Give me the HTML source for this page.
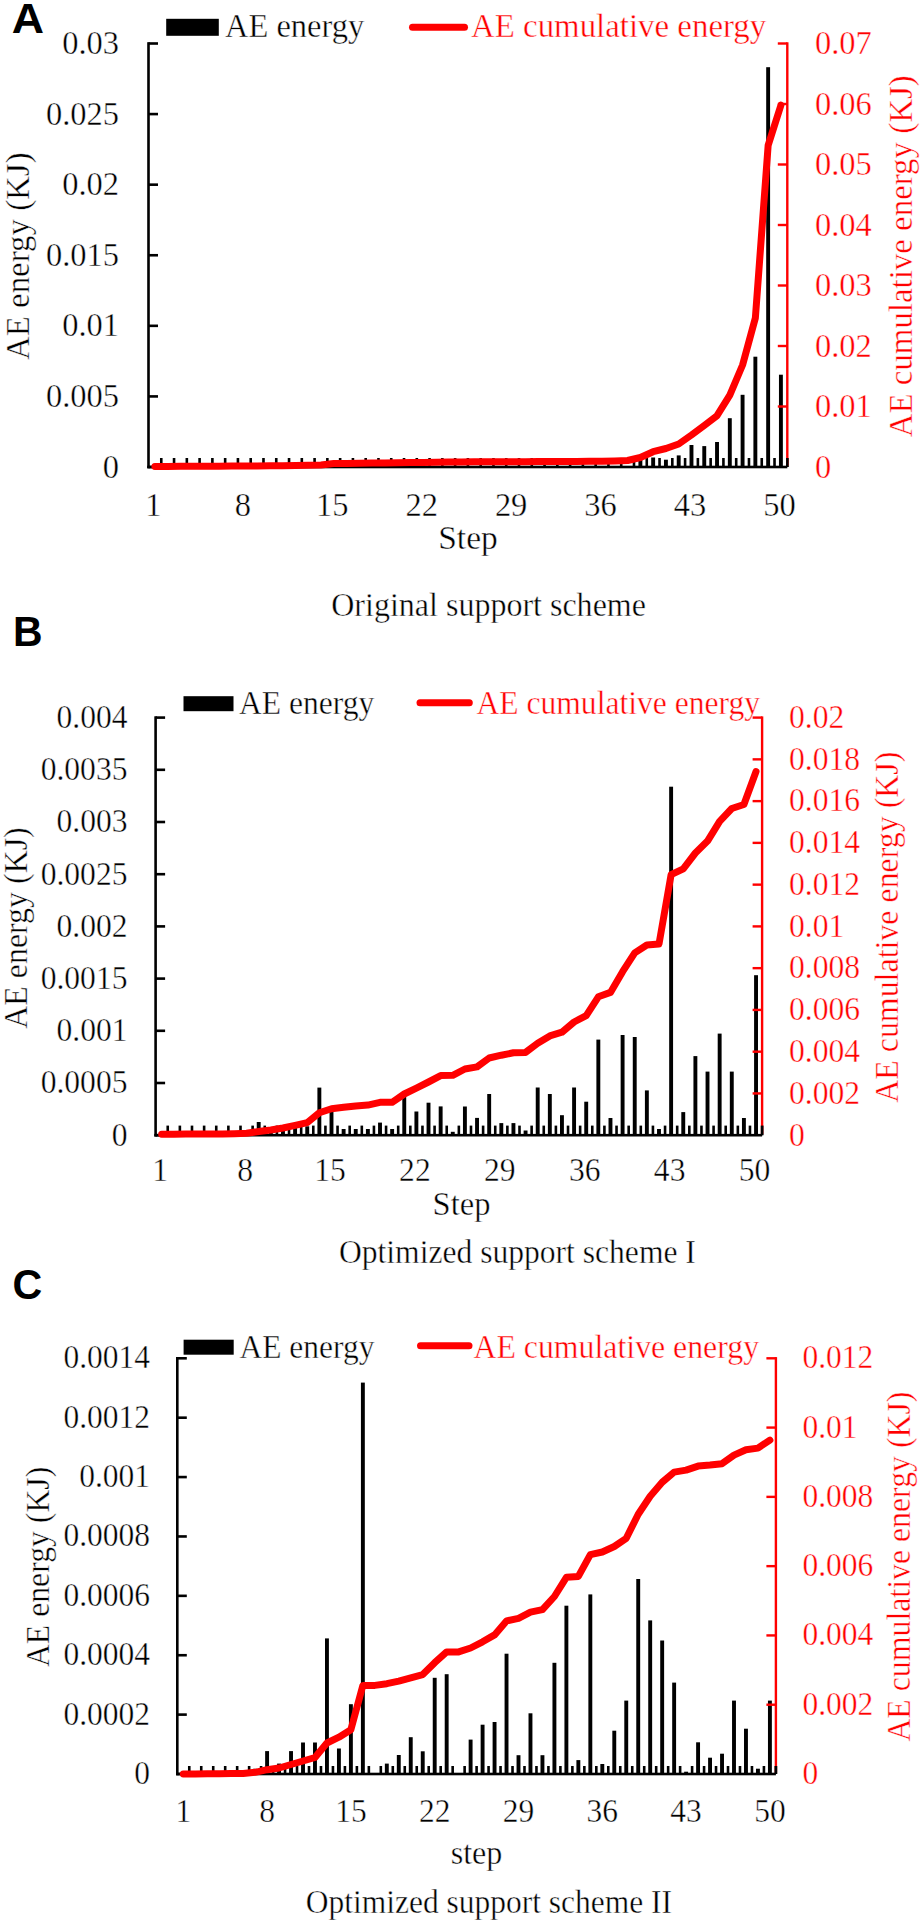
<!DOCTYPE html>
<html><head><meta charset="utf-8"><title>AE energy charts</title>
<style>html,body{margin:0;padding:0;background:#fff;width:922px;height:1921px;overflow:hidden}svg{display:block}text.s{stroke:#fff;stroke-width:0.4px;paint-order:fill}</style>
</head><body>
<svg width="922" height="1921" viewBox="0 0 922 1921" font-family='"Liberation Serif", serif'>
<rect width="922" height="1921" fill="#fff"/>
<rect x="638.43" y="460" width="3.9" height="7" fill="#000"/>
<rect x="651.2" y="457.5" width="3.9" height="9.5" fill="#000"/>
<rect x="663.98" y="459.7" width="3.9" height="7.3" fill="#000"/>
<rect x="676.75" y="455.4" width="3.9" height="11.6" fill="#000"/>
<rect x="689.53" y="445" width="3.9" height="22" fill="#000"/>
<rect x="702.31" y="446.1" width="3.9" height="20.9" fill="#000"/>
<rect x="715.08" y="442" width="3.9" height="25" fill="#000"/>
<rect x="727.86" y="418.2" width="3.9" height="48.8" fill="#000"/>
<rect x="740.63" y="394.8" width="3.9" height="72.2" fill="#000"/>
<rect x="753.41" y="356.7" width="3.9" height="110.3" fill="#000"/>
<rect x="766.19" y="67.2" width="3.9" height="399.8" fill="#000"/>
<rect x="778.96" y="374.7" width="3.9" height="92.3" fill="#000"/>
<rect x="159.98" y="458" width="2.6" height="9" fill="#000"/>
<rect x="172.75" y="458" width="2.6" height="9" fill="#000"/>
<rect x="185.53" y="458" width="2.6" height="9" fill="#000"/>
<rect x="198.3" y="458" width="2.6" height="9" fill="#000"/>
<rect x="211.08" y="458" width="2.6" height="9" fill="#000"/>
<rect x="223.86" y="458" width="2.6" height="9" fill="#000"/>
<rect x="236.63" y="458" width="2.6" height="9" fill="#000"/>
<rect x="249.41" y="458" width="2.6" height="9" fill="#000"/>
<rect x="262.18" y="458" width="2.6" height="9" fill="#000"/>
<rect x="274.96" y="458" width="2.6" height="9" fill="#000"/>
<rect x="287.74" y="458" width="2.6" height="9" fill="#000"/>
<rect x="300.51" y="458" width="2.6" height="9" fill="#000"/>
<rect x="313.29" y="458" width="2.6" height="9" fill="#000"/>
<rect x="326.06" y="458" width="2.6" height="9" fill="#000"/>
<rect x="338.84" y="458" width="2.6" height="9" fill="#000"/>
<rect x="351.62" y="458" width="2.6" height="9" fill="#000"/>
<rect x="364.39" y="458" width="2.6" height="9" fill="#000"/>
<rect x="377.17" y="458" width="2.6" height="9" fill="#000"/>
<rect x="389.94" y="458" width="2.6" height="9" fill="#000"/>
<rect x="402.72" y="458" width="2.6" height="9" fill="#000"/>
<rect x="415.5" y="458" width="2.6" height="9" fill="#000"/>
<rect x="428.27" y="458" width="2.6" height="9" fill="#000"/>
<rect x="441.05" y="458" width="2.6" height="9" fill="#000"/>
<rect x="453.82" y="458" width="2.6" height="9" fill="#000"/>
<rect x="466.6" y="458" width="2.6" height="9" fill="#000"/>
<rect x="479.38" y="458" width="2.6" height="9" fill="#000"/>
<rect x="492.15" y="458" width="2.6" height="9" fill="#000"/>
<rect x="504.93" y="458" width="2.6" height="9" fill="#000"/>
<rect x="517.7" y="458" width="2.6" height="9" fill="#000"/>
<rect x="530.48" y="458" width="2.6" height="9" fill="#000"/>
<rect x="543.26" y="458" width="2.6" height="9" fill="#000"/>
<rect x="556.03" y="458" width="2.6" height="9" fill="#000"/>
<rect x="568.81" y="458" width="2.6" height="9" fill="#000"/>
<rect x="581.58" y="458" width="2.6" height="9" fill="#000"/>
<rect x="594.36" y="458" width="2.6" height="9" fill="#000"/>
<rect x="607.14" y="458" width="2.6" height="9" fill="#000"/>
<rect x="619.91" y="458" width="2.6" height="9" fill="#000"/>
<rect x="632.69" y="458" width="2.6" height="9" fill="#000"/>
<rect x="645.46" y="458" width="2.6" height="9" fill="#000"/>
<rect x="658.24" y="458" width="2.6" height="9" fill="#000"/>
<rect x="671.02" y="458" width="2.6" height="9" fill="#000"/>
<rect x="683.79" y="458" width="2.6" height="9" fill="#000"/>
<rect x="696.57" y="458" width="2.6" height="9" fill="#000"/>
<rect x="709.34" y="458" width="2.6" height="9" fill="#000"/>
<rect x="722.12" y="458" width="2.6" height="9" fill="#000"/>
<rect x="734.9" y="458" width="2.6" height="9" fill="#000"/>
<rect x="747.67" y="458" width="2.6" height="9" fill="#000"/>
<rect x="760.45" y="458" width="2.6" height="9" fill="#000"/>
<rect x="773.22" y="458" width="2.6" height="9" fill="#000"/>
<rect x="786" y="458" width="2.6" height="9" fill="#000"/>
<rect x="147.2" y="42.2" width="2.6" height="426.1" fill="#000"/>
<rect x="148.5" y="465.7" width="9.5" height="2.6" fill="#000"/>
<text class="s" transform="translate(119,477.6) scale(1.0000,1.0450)" font-size="32.5" text-anchor="end">0</text>
<rect x="148.5" y="395.12" width="9.5" height="2.6" fill="#000"/>
<text class="s" transform="translate(119,407.02) scale(1.0000,1.0450)" font-size="32.5" text-anchor="end">0.005</text>
<rect x="148.5" y="324.53" width="9.5" height="2.6" fill="#000"/>
<text class="s" transform="translate(119,336.43) scale(1.0000,1.0450)" font-size="32.5" text-anchor="end">0.01</text>
<rect x="148.5" y="253.95" width="9.5" height="2.6" fill="#000"/>
<text class="s" transform="translate(119,265.85) scale(1.0000,1.0450)" font-size="32.5" text-anchor="end">0.015</text>
<rect x="148.5" y="183.37" width="9.5" height="2.6" fill="#000"/>
<text class="s" transform="translate(119,195.27) scale(1.0000,1.0450)" font-size="32.5" text-anchor="end">0.02</text>
<rect x="148.5" y="112.78" width="9.5" height="2.6" fill="#000"/>
<text class="s" transform="translate(119,124.68) scale(1.0000,1.0450)" font-size="32.5" text-anchor="end">0.025</text>
<rect x="148.5" y="42.2" width="9.5" height="2.6" fill="#000"/>
<text class="s" transform="translate(119,54.1) scale(1.0000,1.0450)" font-size="32.5" text-anchor="end">0.03</text>
<rect x="786.1" y="42.3" width="2.4" height="423.5" fill="#ff0000"/>
<text class="s" transform="translate(815,477.6) scale(1.0000,1.0450)" font-size="32.5" fill="#ff0000">0</text>
<rect x="777.8" y="405.3" width="9.5" height="2.4" fill="#ff0000"/>
<text class="s" transform="translate(815,417.1) scale(1.0000,1.0450)" font-size="32.5" fill="#ff0000">0.01</text>
<rect x="777.8" y="344.8" width="9.5" height="2.4" fill="#ff0000"/>
<text class="s" transform="translate(815,356.6) scale(1.0000,1.0450)" font-size="32.5" fill="#ff0000">0.02</text>
<rect x="777.8" y="284.3" width="9.5" height="2.4" fill="#ff0000"/>
<text class="s" transform="translate(815,296.1) scale(1.0000,1.0450)" font-size="32.5" fill="#ff0000">0.03</text>
<rect x="777.8" y="223.8" width="9.5" height="2.4" fill="#ff0000"/>
<text class="s" transform="translate(815,235.6) scale(1.0000,1.0450)" font-size="32.5" fill="#ff0000">0.04</text>
<rect x="777.8" y="163.3" width="9.5" height="2.4" fill="#ff0000"/>
<text class="s" transform="translate(815,175.1) scale(1.0000,1.0450)" font-size="32.5" fill="#ff0000">0.05</text>
<rect x="777.8" y="102.8" width="9.5" height="2.4" fill="#ff0000"/>
<text class="s" transform="translate(815,114.6) scale(1.0000,1.0450)" font-size="32.5" fill="#ff0000">0.06</text>
<rect x="777.8" y="42.3" width="9.5" height="2.4" fill="#ff0000"/>
<text class="s" transform="translate(815,54.1) scale(1.0000,1.0450)" font-size="32.5" fill="#ff0000">0.07</text>
<rect x="786.1" y="458" width="2.4" height="9" fill="#000"/>
<rect x="147.2" y="465.7" width="640.1" height="2.6" fill="#000"/>
<polyline points="154.89,466.5 167.66,466.43 180.44,466.36 193.22,466.29 205.99,466.22 218.77,466.15 231.54,466.08 244.32,466.01 257.1,465.94 269.87,465.87 282.65,465.8 295.42,465.53 308.2,465.27 320.98,465 333.75,463.6 346.53,463.44 359.3,463.28 372.08,463.12 384.86,462.96 397.63,462.8 410.41,462.62 423.18,462.44 435.96,462.26 448.74,462.08 461.51,461.9 474.29,461.85 487.06,461.79 499.84,461.74 512.62,461.68 525.39,461.63 538.17,461.57 550.94,461.52 563.72,461.46 576.5,461.41 589.27,461.35 602.05,461.3 614.82,460.9 627.6,460.5 640.38,457.5 653.15,451.7 665.93,448.5 678.7,444 691.48,435 704.26,425.5 717.03,415.7 729.81,395.2 742.58,365 755.36,318 768.14,145.4 780.91,105.2" fill="none" stroke="#ff0000" stroke-width="7" stroke-linejoin="round" stroke-linecap="round"/>
<text class="s" transform="translate(153.39,515.8) scale(1.0000,1.0450)" font-size="32.5" text-anchor="middle">1</text>
<text class="s" transform="translate(242.82,515.8) scale(1.0000,1.0450)" font-size="32.5" text-anchor="middle">8</text>
<text class="s" transform="translate(332.25,515.8) scale(1.0000,1.0450)" font-size="32.5" text-anchor="middle">15</text>
<text class="s" transform="translate(421.68,515.8) scale(1.0000,1.0450)" font-size="32.5" text-anchor="middle">22</text>
<text class="s" transform="translate(511.12,515.8) scale(1.0000,1.0450)" font-size="32.5" text-anchor="middle">29</text>
<text class="s" transform="translate(600.55,515.8) scale(1.0000,1.0450)" font-size="32.5" text-anchor="middle">36</text>
<text class="s" transform="translate(689.98,515.8) scale(1.0000,1.0450)" font-size="32.5" text-anchor="middle">43</text>
<text class="s" transform="translate(779.41,515.8) scale(1.0000,1.0450)" font-size="32.5" text-anchor="middle">50</text>
<text class="s" transform="translate(468,549) scale(1.0300,1.0450)" font-size="32.5" text-anchor="middle">Step</text>
<text class="s" transform="translate(488.6,616.4) scale(0.9850,1.0450)" font-size="32.5" text-anchor="middle">Original support scheme</text>
<text class="s" transform="translate(28.9,256.2) rotate(-90) scale(1.0120,1.0450)" font-size="32.5" text-anchor="middle">AE energy (KJ)</text>
<text class="s" transform="translate(911.5,256.3) rotate(-90) scale(1.0120,1.0450)" font-size="32.5" text-anchor="middle" fill="#ff0000">AE cumulative energy (KJ)</text>
<rect x="166.2" y="18.8" width="52.6" height="17" fill="#000"/>
<text class="s" transform="translate(225,37.1) scale(1.0000,1.0450)" font-size="32.5">AE energy</text>
<line x1="412.5" y1="27.2" x2="464.5" y2="27.2" stroke="#ff0000" stroke-width="7" stroke-linecap="round"/>
<text class="s" transform="translate(471,37.1) scale(1.0120,1.0450)" font-size="32.5" fill="#ff0000">AE cumulative energy</text>
<text transform="translate(11.8,32.5) scale(1.0600,1.0000)" font-size="42.2" font-family='"Liberation Sans", sans-serif' font-weight="bold">A</text>
<rect x="256.75" y="1122" width="3.9" height="13.2" fill="#000"/>
<rect x="268.89" y="1131" width="3.9" height="4.2" fill="#000"/>
<rect x="281.02" y="1130" width="3.9" height="5.2" fill="#000"/>
<rect x="293.15" y="1128" width="3.9" height="7.2" fill="#000"/>
<rect x="305.28" y="1126.3" width="3.9" height="8.9" fill="#000"/>
<rect x="317.41" y="1087.6" width="3.9" height="47.6" fill="#000"/>
<rect x="329.54" y="1110.6" width="3.9" height="24.6" fill="#000"/>
<rect x="341.67" y="1129" width="3.9" height="6.2" fill="#000"/>
<rect x="353.8" y="1129" width="3.9" height="6.2" fill="#000"/>
<rect x="365.93" y="1129" width="3.9" height="6.2" fill="#000"/>
<rect x="378.06" y="1122.6" width="3.9" height="12.6" fill="#000"/>
<rect x="390.19" y="1129" width="3.9" height="6.2" fill="#000"/>
<rect x="402.31" y="1091.3" width="3.9" height="43.9" fill="#000"/>
<rect x="414.44" y="1111.5" width="3.9" height="23.7" fill="#000"/>
<rect x="426.57" y="1102.7" width="3.9" height="32.5" fill="#000"/>
<rect x="438.7" y="1106.4" width="3.9" height="28.8" fill="#000"/>
<rect x="450.83" y="1131.8" width="3.9" height="3.4" fill="#000"/>
<rect x="462.96" y="1106.5" width="3.9" height="28.7" fill="#000"/>
<rect x="475.09" y="1117.9" width="3.9" height="17.3" fill="#000"/>
<rect x="487.23" y="1094" width="3.9" height="41.2" fill="#000"/>
<rect x="499.36" y="1123.1" width="3.9" height="12.1" fill="#000"/>
<rect x="511.49" y="1123.1" width="3.9" height="12.1" fill="#000"/>
<rect x="523.62" y="1130.5" width="3.9" height="4.7" fill="#000"/>
<rect x="535.75" y="1087.5" width="3.9" height="47.7" fill="#000"/>
<rect x="547.88" y="1094" width="3.9" height="41.2" fill="#000"/>
<rect x="560" y="1115.2" width="3.9" height="20" fill="#000"/>
<rect x="572.13" y="1087.5" width="3.9" height="47.7" fill="#000"/>
<rect x="584.26" y="1101.7" width="3.9" height="33.5" fill="#000"/>
<rect x="596.39" y="1039.6" width="3.9" height="95.6" fill="#000"/>
<rect x="608.52" y="1118" width="3.9" height="17.2" fill="#000"/>
<rect x="620.65" y="1035" width="3.9" height="100.2" fill="#000"/>
<rect x="632.78" y="1037" width="3.9" height="98.2" fill="#000"/>
<rect x="644.91" y="1090.4" width="3.9" height="44.8" fill="#000"/>
<rect x="657.04" y="1129" width="3.9" height="6.2" fill="#000"/>
<rect x="669.17" y="786.7" width="3.9" height="348.5" fill="#000"/>
<rect x="681.31" y="1112.1" width="3.9" height="23.1" fill="#000"/>
<rect x="693.44" y="1056.1" width="3.9" height="79.1" fill="#000"/>
<rect x="705.57" y="1071.6" width="3.9" height="63.6" fill="#000"/>
<rect x="717.7" y="1033.6" width="3.9" height="101.6" fill="#000"/>
<rect x="729.83" y="1071.6" width="3.9" height="63.6" fill="#000"/>
<rect x="741.96" y="1118" width="3.9" height="17.2" fill="#000"/>
<rect x="754.09" y="975.2" width="3.9" height="160" fill="#000"/>
<rect x="166.43" y="1125.6" width="2.6" height="9.6" fill="#000"/>
<rect x="178.56" y="1125.6" width="2.6" height="9.6" fill="#000"/>
<rect x="190.69" y="1125.6" width="2.6" height="9.6" fill="#000"/>
<rect x="202.82" y="1125.6" width="2.6" height="9.6" fill="#000"/>
<rect x="214.95" y="1125.6" width="2.6" height="9.6" fill="#000"/>
<rect x="227.08" y="1125.6" width="2.6" height="9.6" fill="#000"/>
<rect x="239.21" y="1125.6" width="2.6" height="9.6" fill="#000"/>
<rect x="251.34" y="1125.6" width="2.6" height="9.6" fill="#000"/>
<rect x="263.47" y="1125.6" width="2.6" height="9.6" fill="#000"/>
<rect x="275.6" y="1125.6" width="2.6" height="9.6" fill="#000"/>
<rect x="287.73" y="1125.6" width="2.6" height="9.6" fill="#000"/>
<rect x="299.86" y="1125.6" width="2.6" height="9.6" fill="#000"/>
<rect x="311.99" y="1125.6" width="2.6" height="9.6" fill="#000"/>
<rect x="324.12" y="1125.6" width="2.6" height="9.6" fill="#000"/>
<rect x="336.25" y="1125.6" width="2.6" height="9.6" fill="#000"/>
<rect x="348.38" y="1125.6" width="2.6" height="9.6" fill="#000"/>
<rect x="360.51" y="1125.6" width="2.6" height="9.6" fill="#000"/>
<rect x="372.64" y="1125.6" width="2.6" height="9.6" fill="#000"/>
<rect x="384.77" y="1125.6" width="2.6" height="9.6" fill="#000"/>
<rect x="396.9" y="1125.6" width="2.6" height="9.6" fill="#000"/>
<rect x="409.03" y="1125.6" width="2.6" height="9.6" fill="#000"/>
<rect x="421.16" y="1125.6" width="2.6" height="9.6" fill="#000"/>
<rect x="433.29" y="1125.6" width="2.6" height="9.6" fill="#000"/>
<rect x="445.42" y="1125.6" width="2.6" height="9.6" fill="#000"/>
<rect x="457.55" y="1125.6" width="2.6" height="9.6" fill="#000"/>
<rect x="469.68" y="1125.6" width="2.6" height="9.6" fill="#000"/>
<rect x="481.81" y="1125.6" width="2.6" height="9.6" fill="#000"/>
<rect x="493.94" y="1125.6" width="2.6" height="9.6" fill="#000"/>
<rect x="506.07" y="1125.6" width="2.6" height="9.6" fill="#000"/>
<rect x="518.2" y="1125.6" width="2.6" height="9.6" fill="#000"/>
<rect x="530.33" y="1125.6" width="2.6" height="9.6" fill="#000"/>
<rect x="542.46" y="1125.6" width="2.6" height="9.6" fill="#000"/>
<rect x="554.59" y="1125.6" width="2.6" height="9.6" fill="#000"/>
<rect x="566.72" y="1125.6" width="2.6" height="9.6" fill="#000"/>
<rect x="578.85" y="1125.6" width="2.6" height="9.6" fill="#000"/>
<rect x="590.98" y="1125.6" width="2.6" height="9.6" fill="#000"/>
<rect x="603.11" y="1125.6" width="2.6" height="9.6" fill="#000"/>
<rect x="615.24" y="1125.6" width="2.6" height="9.6" fill="#000"/>
<rect x="627.37" y="1125.6" width="2.6" height="9.6" fill="#000"/>
<rect x="639.5" y="1125.6" width="2.6" height="9.6" fill="#000"/>
<rect x="651.63" y="1125.6" width="2.6" height="9.6" fill="#000"/>
<rect x="663.76" y="1125.6" width="2.6" height="9.6" fill="#000"/>
<rect x="675.89" y="1125.6" width="2.6" height="9.6" fill="#000"/>
<rect x="688.02" y="1125.6" width="2.6" height="9.6" fill="#000"/>
<rect x="700.15" y="1125.6" width="2.6" height="9.6" fill="#000"/>
<rect x="712.28" y="1125.6" width="2.6" height="9.6" fill="#000"/>
<rect x="724.41" y="1125.6" width="2.6" height="9.6" fill="#000"/>
<rect x="736.54" y="1125.6" width="2.6" height="9.6" fill="#000"/>
<rect x="748.67" y="1125.6" width="2.6" height="9.6" fill="#000"/>
<rect x="760.8" y="1125.6" width="2.6" height="9.6" fill="#000"/>
<rect x="154.3" y="716.3" width="2.6" height="420.2" fill="#000"/>
<rect x="155.6" y="1133.9" width="9.5" height="2.6" fill="#000"/>
<text class="s" transform="translate(127.5,1145.5) scale(1.0000,1.0450)" font-size="31.6" text-anchor="end">0</text>
<rect x="155.6" y="1081.7" width="9.5" height="2.6" fill="#000"/>
<text class="s" transform="translate(127.5,1093.3) scale(1.0000,1.0450)" font-size="31.6" text-anchor="end">0.0005</text>
<rect x="155.6" y="1029.5" width="9.5" height="2.6" fill="#000"/>
<text class="s" transform="translate(127.5,1041.1) scale(1.0000,1.0450)" font-size="31.6" text-anchor="end">0.001</text>
<rect x="155.6" y="977.3" width="9.5" height="2.6" fill="#000"/>
<text class="s" transform="translate(127.5,988.9) scale(1.0000,1.0450)" font-size="31.6" text-anchor="end">0.0015</text>
<rect x="155.6" y="925.1" width="9.5" height="2.6" fill="#000"/>
<text class="s" transform="translate(127.5,936.7) scale(1.0000,1.0450)" font-size="31.6" text-anchor="end">0.002</text>
<rect x="155.6" y="872.9" width="9.5" height="2.6" fill="#000"/>
<text class="s" transform="translate(127.5,884.5) scale(1.0000,1.0450)" font-size="31.6" text-anchor="end">0.0025</text>
<rect x="155.6" y="820.7" width="9.5" height="2.6" fill="#000"/>
<text class="s" transform="translate(127.5,832.3) scale(1.0000,1.0450)" font-size="31.6" text-anchor="end">0.003</text>
<rect x="155.6" y="768.5" width="9.5" height="2.6" fill="#000"/>
<text class="s" transform="translate(127.5,780.1) scale(1.0000,1.0450)" font-size="31.6" text-anchor="end">0.0035</text>
<rect x="155.6" y="716.3" width="9.5" height="2.6" fill="#000"/>
<text class="s" transform="translate(127.5,727.9) scale(1.0000,1.0450)" font-size="31.6" text-anchor="end">0.004</text>
<rect x="760.9" y="716.4" width="2.4" height="417.6" fill="#ff0000"/>
<text class="s" transform="translate(789,1145.5) scale(1.0000,1.0450)" font-size="31.6" fill="#ff0000">0</text>
<rect x="752.6" y="1092.24" width="9.5" height="2.4" fill="#ff0000"/>
<text class="s" transform="translate(789,1103.74) scale(1.0000,1.0450)" font-size="31.6" fill="#ff0000">0.002</text>
<rect x="752.6" y="1050.48" width="9.5" height="2.4" fill="#ff0000"/>
<text class="s" transform="translate(789,1061.98) scale(1.0000,1.0450)" font-size="31.6" fill="#ff0000">0.004</text>
<rect x="752.6" y="1008.72" width="9.5" height="2.4" fill="#ff0000"/>
<text class="s" transform="translate(789,1020.22) scale(1.0000,1.0450)" font-size="31.6" fill="#ff0000">0.006</text>
<rect x="752.6" y="966.96" width="9.5" height="2.4" fill="#ff0000"/>
<text class="s" transform="translate(789,978.46) scale(1.0000,1.0450)" font-size="31.6" fill="#ff0000">0.008</text>
<rect x="752.6" y="925.2" width="9.5" height="2.4" fill="#ff0000"/>
<text class="s" transform="translate(789,936.7) scale(1.0000,1.0450)" font-size="31.6" fill="#ff0000">0.01</text>
<rect x="752.6" y="883.44" width="9.5" height="2.4" fill="#ff0000"/>
<text class="s" transform="translate(789,894.94) scale(1.0000,1.0450)" font-size="31.6" fill="#ff0000">0.012</text>
<rect x="752.6" y="841.68" width="9.5" height="2.4" fill="#ff0000"/>
<text class="s" transform="translate(789,853.18) scale(1.0000,1.0450)" font-size="31.6" fill="#ff0000">0.014</text>
<rect x="752.6" y="799.92" width="9.5" height="2.4" fill="#ff0000"/>
<text class="s" transform="translate(789,811.42) scale(1.0000,1.0450)" font-size="31.6" fill="#ff0000">0.016</text>
<rect x="752.6" y="758.16" width="9.5" height="2.4" fill="#ff0000"/>
<text class="s" transform="translate(789,769.66) scale(1.0000,1.0450)" font-size="31.6" fill="#ff0000">0.018</text>
<rect x="752.6" y="716.4" width="9.5" height="2.4" fill="#ff0000"/>
<text class="s" transform="translate(789,727.9) scale(1.0000,1.0450)" font-size="31.6" fill="#ff0000">0.02</text>
<rect x="760.9" y="1125.6" width="2.4" height="9.6" fill="#000"/>
<rect x="154.3" y="1133.9" width="607.8" height="2.6" fill="#000"/>
<polyline points="161.66,1134.2 173.79,1134.16 185.93,1134.12 198.06,1134.08 210.19,1134.04 222.31,1134 234.44,1133.65 246.57,1133.3 258.7,1131.5 270.84,1130 282.97,1128 295.1,1125.4 307.23,1122.6 319.36,1112.8 331.49,1108.8 343.62,1107.3 355.75,1106 367.88,1105.1 380,1102.3 392.13,1102.3 404.26,1094 416.39,1088.1 428.52,1082 440.65,1075.6 452.78,1075.3 464.91,1069 477.04,1066.9 489.18,1058 501.31,1055.2 513.44,1052.8 525.57,1052.4 537.7,1043.3 549.83,1035.9 561.96,1032.2 574.09,1022 586.22,1015.6 598.35,996.8 610.48,992.4 622.61,971.7 634.74,952.9 646.87,945 659,944 671.12,874.7 683.26,868.8 695.39,853 707.52,841.1 719.65,821.3 731.78,808.5 743.91,804.5 756.04,771.5" fill="none" stroke="#ff0000" stroke-width="7" stroke-linejoin="round" stroke-linecap="round"/>
<text class="s" transform="translate(160.16,1181) scale(1.0000,1.0450)" font-size="31.6" text-anchor="middle">1</text>
<text class="s" transform="translate(245.07,1181) scale(1.0000,1.0450)" font-size="31.6" text-anchor="middle">8</text>
<text class="s" transform="translate(329.99,1181) scale(1.0000,1.0450)" font-size="31.6" text-anchor="middle">15</text>
<text class="s" transform="translate(414.89,1181) scale(1.0000,1.0450)" font-size="31.6" text-anchor="middle">22</text>
<text class="s" transform="translate(499.81,1181) scale(1.0000,1.0450)" font-size="31.6" text-anchor="middle">29</text>
<text class="s" transform="translate(584.72,1181) scale(1.0000,1.0450)" font-size="31.6" text-anchor="middle">36</text>
<text class="s" transform="translate(669.62,1181) scale(1.0000,1.0450)" font-size="31.6" text-anchor="middle">43</text>
<text class="s" transform="translate(754.54,1181) scale(1.0000,1.0450)" font-size="31.6" text-anchor="middle">50</text>
<text class="s" transform="translate(461.5,1214.7) scale(1.0300,1.0450)" font-size="31.6" text-anchor="middle">Step</text>
<text class="s" transform="translate(517.4,1263.3) scale(1.0000,1.0450)" font-size="31.6" text-anchor="middle">Optimized support scheme I</text>
<text class="s" transform="translate(27.3,928) rotate(-90) scale(1.0100,1.0450)" font-size="31.6" text-anchor="middle">AE energy (KJ)</text>
<text class="s" transform="translate(898,927.2) rotate(-90) scale(1.0100,1.0450)" font-size="31.6" text-anchor="middle" fill="#ff0000">AE cumulative energy (KJ)</text>
<rect x="183.5" y="696.2" width="50" height="15" fill="#000"/>
<text class="s" transform="translate(239,713.8) scale(1.0000,1.0450)" font-size="31.6">AE energy</text>
<line x1="420" y1="702.8" x2="469.3" y2="702.8" stroke="#ff0000" stroke-width="7" stroke-linecap="round"/>
<text class="s" transform="translate(476.5,713.8) scale(1.0000,1.0450)" font-size="31.6" fill="#ff0000">AE cumulative energy</text>
<text transform="translate(13,645.9) scale(0.9700,1.0000)" font-size="42.2" font-family='"Liberation Sans", sans-serif' font-weight="bold">B</text>
<rect x="253.17" y="1768.8" width="3.9" height="5.2" fill="#000"/>
<rect x="265.14" y="1751.1" width="3.9" height="22.9" fill="#000"/>
<rect x="277.11" y="1763.6" width="3.9" height="10.4" fill="#000"/>
<rect x="289.08" y="1751.1" width="3.9" height="22.9" fill="#000"/>
<rect x="301.06" y="1742.5" width="3.9" height="31.5" fill="#000"/>
<rect x="313.03" y="1742.5" width="3.9" height="31.5" fill="#000"/>
<rect x="325" y="1638.4" width="3.9" height="135.6" fill="#000"/>
<rect x="336.97" y="1748.5" width="3.9" height="25.5" fill="#000"/>
<rect x="348.94" y="1704.2" width="3.9" height="69.8" fill="#000"/>
<rect x="360.92" y="1382.6" width="3.9" height="391.4" fill="#000"/>
<rect x="384.86" y="1763.6" width="3.9" height="10.4" fill="#000"/>
<rect x="396.83" y="1755" width="3.9" height="19" fill="#000"/>
<rect x="408.8" y="1737.2" width="3.9" height="36.8" fill="#000"/>
<rect x="420.78" y="1751.3" width="3.9" height="22.7" fill="#000"/>
<rect x="432.75" y="1677.8" width="3.9" height="96.2" fill="#000"/>
<rect x="444.72" y="1674.2" width="3.9" height="99.8" fill="#000"/>
<rect x="468.66" y="1739.6" width="3.9" height="34.4" fill="#000"/>
<rect x="480.64" y="1724.7" width="3.9" height="49.3" fill="#000"/>
<rect x="492.61" y="1722" width="3.9" height="52" fill="#000"/>
<rect x="504.58" y="1653.7" width="3.9" height="120.3" fill="#000"/>
<rect x="516.55" y="1755.2" width="3.9" height="18.8" fill="#000"/>
<rect x="528.52" y="1713.3" width="3.9" height="60.7" fill="#000"/>
<rect x="540.5" y="1755.2" width="3.9" height="18.8" fill="#000"/>
<rect x="552.47" y="1662.8" width="3.9" height="111.2" fill="#000"/>
<rect x="564.44" y="1605.7" width="3.9" height="168.3" fill="#000"/>
<rect x="576.41" y="1760.1" width="3.9" height="13.9" fill="#000"/>
<rect x="588.38" y="1594.4" width="3.9" height="179.6" fill="#000"/>
<rect x="600.36" y="1764" width="3.9" height="10" fill="#000"/>
<rect x="612.33" y="1730.7" width="3.9" height="43.3" fill="#000"/>
<rect x="624.3" y="1700.6" width="3.9" height="73.4" fill="#000"/>
<rect x="636.27" y="1579" width="3.9" height="195" fill="#000"/>
<rect x="648.24" y="1620.4" width="3.9" height="153.6" fill="#000"/>
<rect x="660.22" y="1640.5" width="3.9" height="133.5" fill="#000"/>
<rect x="672.19" y="1682.6" width="3.9" height="91.4" fill="#000"/>
<rect x="684.16" y="1771.7" width="3.9" height="2.3" fill="#000"/>
<rect x="696.13" y="1742.3" width="3.9" height="31.7" fill="#000"/>
<rect x="708.1" y="1757.7" width="3.9" height="16.3" fill="#000"/>
<rect x="720.08" y="1753.7" width="3.9" height="20.3" fill="#000"/>
<rect x="732.05" y="1700.6" width="3.9" height="73.4" fill="#000"/>
<rect x="744.02" y="1728.7" width="3.9" height="45.3" fill="#000"/>
<rect x="755.99" y="1768.7" width="3.9" height="5.3" fill="#000"/>
<rect x="767.96" y="1700.6" width="3.9" height="73.4" fill="#000"/>
<rect x="187.97" y="1766" width="2.6" height="8" fill="#000"/>
<rect x="199.94" y="1766" width="2.6" height="8" fill="#000"/>
<rect x="211.92" y="1766" width="2.6" height="8" fill="#000"/>
<rect x="223.89" y="1766" width="2.6" height="8" fill="#000"/>
<rect x="235.86" y="1766" width="2.6" height="8" fill="#000"/>
<rect x="247.83" y="1766" width="2.6" height="8" fill="#000"/>
<rect x="259.8" y="1766" width="2.6" height="8" fill="#000"/>
<rect x="271.78" y="1766" width="2.6" height="8" fill="#000"/>
<rect x="283.75" y="1766" width="2.6" height="8" fill="#000"/>
<rect x="295.72" y="1766" width="2.6" height="8" fill="#000"/>
<rect x="307.69" y="1766" width="2.6" height="8" fill="#000"/>
<rect x="319.66" y="1766" width="2.6" height="8" fill="#000"/>
<rect x="331.64" y="1766" width="2.6" height="8" fill="#000"/>
<rect x="343.61" y="1766" width="2.6" height="8" fill="#000"/>
<rect x="355.58" y="1766" width="2.6" height="8" fill="#000"/>
<rect x="367.55" y="1766" width="2.6" height="8" fill="#000"/>
<rect x="379.52" y="1766" width="2.6" height="8" fill="#000"/>
<rect x="391.5" y="1766" width="2.6" height="8" fill="#000"/>
<rect x="403.47" y="1766" width="2.6" height="8" fill="#000"/>
<rect x="415.44" y="1766" width="2.6" height="8" fill="#000"/>
<rect x="427.41" y="1766" width="2.6" height="8" fill="#000"/>
<rect x="439.38" y="1766" width="2.6" height="8" fill="#000"/>
<rect x="451.36" y="1766" width="2.6" height="8" fill="#000"/>
<rect x="463.33" y="1766" width="2.6" height="8" fill="#000"/>
<rect x="475.3" y="1766" width="2.6" height="8" fill="#000"/>
<rect x="487.27" y="1766" width="2.6" height="8" fill="#000"/>
<rect x="499.24" y="1766" width="2.6" height="8" fill="#000"/>
<rect x="511.22" y="1766" width="2.6" height="8" fill="#000"/>
<rect x="523.19" y="1766" width="2.6" height="8" fill="#000"/>
<rect x="535.16" y="1766" width="2.6" height="8" fill="#000"/>
<rect x="547.13" y="1766" width="2.6" height="8" fill="#000"/>
<rect x="559.1" y="1766" width="2.6" height="8" fill="#000"/>
<rect x="571.08" y="1766" width="2.6" height="8" fill="#000"/>
<rect x="583.05" y="1766" width="2.6" height="8" fill="#000"/>
<rect x="595.02" y="1766" width="2.6" height="8" fill="#000"/>
<rect x="606.99" y="1766" width="2.6" height="8" fill="#000"/>
<rect x="618.96" y="1766" width="2.6" height="8" fill="#000"/>
<rect x="630.94" y="1766" width="2.6" height="8" fill="#000"/>
<rect x="642.91" y="1766" width="2.6" height="8" fill="#000"/>
<rect x="654.88" y="1766" width="2.6" height="8" fill="#000"/>
<rect x="666.85" y="1766" width="2.6" height="8" fill="#000"/>
<rect x="678.82" y="1766" width="2.6" height="8" fill="#000"/>
<rect x="690.8" y="1766" width="2.6" height="8" fill="#000"/>
<rect x="702.77" y="1766" width="2.6" height="8" fill="#000"/>
<rect x="714.74" y="1766" width="2.6" height="8" fill="#000"/>
<rect x="726.71" y="1766" width="2.6" height="8" fill="#000"/>
<rect x="738.68" y="1766" width="2.6" height="8" fill="#000"/>
<rect x="750.66" y="1766" width="2.6" height="8" fill="#000"/>
<rect x="762.63" y="1766" width="2.6" height="8" fill="#000"/>
<rect x="774.6" y="1766" width="2.6" height="8" fill="#000"/>
<rect x="176" y="1357" width="2.6" height="418.3" fill="#000"/>
<rect x="177.3" y="1772.7" width="9.5" height="2.6" fill="#000"/>
<text class="s" transform="translate(150,1784) scale(1.0000,1.0450)" font-size="31.5" text-anchor="end">0</text>
<rect x="177.3" y="1713.31" width="9.5" height="2.6" fill="#000"/>
<text class="s" transform="translate(150,1724.61) scale(1.0000,1.0450)" font-size="31.5" text-anchor="end">0.0002</text>
<rect x="177.3" y="1653.93" width="9.5" height="2.6" fill="#000"/>
<text class="s" transform="translate(150,1665.23) scale(1.0000,1.0450)" font-size="31.5" text-anchor="end">0.0004</text>
<rect x="177.3" y="1594.54" width="9.5" height="2.6" fill="#000"/>
<text class="s" transform="translate(150,1605.84) scale(1.0000,1.0450)" font-size="31.5" text-anchor="end">0.0006</text>
<rect x="177.3" y="1535.16" width="9.5" height="2.6" fill="#000"/>
<text class="s" transform="translate(150,1546.46) scale(1.0000,1.0450)" font-size="31.5" text-anchor="end">0.0008</text>
<rect x="177.3" y="1475.77" width="9.5" height="2.6" fill="#000"/>
<text class="s" transform="translate(150,1487.07) scale(1.0000,1.0450)" font-size="31.5" text-anchor="end">0.001</text>
<rect x="177.3" y="1416.39" width="9.5" height="2.6" fill="#000"/>
<text class="s" transform="translate(150,1427.69) scale(1.0000,1.0450)" font-size="31.5" text-anchor="end">0.0012</text>
<rect x="177.3" y="1357" width="9.5" height="2.6" fill="#000"/>
<text class="s" transform="translate(150,1368.3) scale(1.0000,1.0450)" font-size="31.5" text-anchor="end">0.0014</text>
<rect x="774.7" y="1357.1" width="2.4" height="415.7" fill="#ff0000"/>
<text class="s" transform="translate(802.5,1784) scale(1.0000,1.0450)" font-size="31.5" fill="#ff0000">0</text>
<rect x="766.4" y="1703.52" width="9.5" height="2.4" fill="#ff0000"/>
<text class="s" transform="translate(802.5,1714.72) scale(1.0000,1.0450)" font-size="31.5" fill="#ff0000">0.002</text>
<rect x="766.4" y="1634.23" width="9.5" height="2.4" fill="#ff0000"/>
<text class="s" transform="translate(802.5,1645.43) scale(1.0000,1.0450)" font-size="31.5" fill="#ff0000">0.004</text>
<rect x="766.4" y="1564.95" width="9.5" height="2.4" fill="#ff0000"/>
<text class="s" transform="translate(802.5,1576.15) scale(1.0000,1.0450)" font-size="31.5" fill="#ff0000">0.006</text>
<rect x="766.4" y="1495.67" width="9.5" height="2.4" fill="#ff0000"/>
<text class="s" transform="translate(802.5,1506.87) scale(1.0000,1.0450)" font-size="31.5" fill="#ff0000">0.008</text>
<rect x="766.4" y="1426.38" width="9.5" height="2.4" fill="#ff0000"/>
<text class="s" transform="translate(802.5,1437.58) scale(1.0000,1.0450)" font-size="31.5" fill="#ff0000">0.01</text>
<rect x="766.4" y="1357.1" width="9.5" height="2.4" fill="#ff0000"/>
<text class="s" transform="translate(802.5,1368.3) scale(1.0000,1.0450)" font-size="31.5" fill="#ff0000">0.012</text>
<rect x="774.7" y="1766" width="2.4" height="8" fill="#000"/>
<rect x="176" y="1772.7" width="599.9" height="2.6" fill="#000"/>
<polyline points="183.29,1774 195.26,1773.9 207.23,1773.8 219.2,1773.7 231.17,1773.6 243.15,1773.5 255.12,1772.3 267.09,1769.7 279.06,1768 291.03,1764.5 303.01,1761 314.98,1757.5 326.95,1743 338.92,1737.2 350.89,1729.7 362.87,1685.4 374.84,1685.4 386.81,1683.7 398.78,1681.1 410.75,1677.8 422.73,1674.6 434.7,1662.7 446.67,1651.9 458.64,1651.9 470.61,1648 482.59,1641.8 494.56,1634.9 506.53,1620.9 518.5,1618.3 530.47,1612.2 542.45,1609.6 554.42,1596.5 566.39,1577.3 578.36,1576.4 590.33,1554.6 602.31,1552 614.28,1546.5 626.25,1538.3 638.22,1514.2 650.19,1496.2 662.17,1482.2 674.14,1472.1 686.11,1470.1 698.08,1466.1 710.05,1465.1 722.03,1463.7 734,1455.1 745.97,1449.7 757.94,1448.1 769.91,1440.1" fill="none" stroke="#ff0000" stroke-width="7" stroke-linejoin="round" stroke-linecap="round"/>
<text class="s" transform="translate(183.29,1822) scale(1.0000,1.0450)" font-size="31.5" text-anchor="middle">1</text>
<text class="s" transform="translate(267.09,1822) scale(1.0000,1.0450)" font-size="31.5" text-anchor="middle">8</text>
<text class="s" transform="translate(350.89,1822) scale(1.0000,1.0450)" font-size="31.5" text-anchor="middle">15</text>
<text class="s" transform="translate(434.7,1822) scale(1.0000,1.0450)" font-size="31.5" text-anchor="middle">22</text>
<text class="s" transform="translate(518.5,1822) scale(1.0000,1.0450)" font-size="31.5" text-anchor="middle">29</text>
<text class="s" transform="translate(602.31,1822) scale(1.0000,1.0450)" font-size="31.5" text-anchor="middle">36</text>
<text class="s" transform="translate(686.11,1822) scale(1.0000,1.0450)" font-size="31.5" text-anchor="middle">43</text>
<text class="s" transform="translate(769.91,1822) scale(1.0000,1.0450)" font-size="31.5" text-anchor="middle">50</text>
<text class="s" transform="translate(476.5,1863.6) scale(1.0200,1.0450)" font-size="31.5" text-anchor="middle">step</text>
<text class="s" transform="translate(488.9,1912.9) scale(1.0000,1.0450)" font-size="31.5" text-anchor="middle">Optimized support scheme II</text>
<text class="s" transform="translate(49,1566.9) rotate(-90) scale(1.0080,1.0450)" font-size="31.5" text-anchor="middle">AE energy (KJ)</text>
<text class="s" transform="translate(910,1566.6) rotate(-90) scale(1.0100,1.0450)" font-size="31.5" text-anchor="middle" fill="#ff0000">AE cumulative energy (KJ)</text>
<rect x="183.6" y="1339.7" width="50.1" height="15" fill="#000"/>
<text class="s" transform="translate(239.5,1357.5) scale(1.0000,1.0450)" font-size="31.5">AE energy</text>
<line x1="420.5" y1="1345.8" x2="469" y2="1345.8" stroke="#ff0000" stroke-width="7" stroke-linecap="round"/>
<text class="s" transform="translate(473.5,1357.5) scale(1.0100,1.0450)" font-size="31.5" fill="#ff0000">AE cumulative energy</text>
<text transform="translate(12.5,1298.8) scale(0.9750,1.0000)" font-size="42.2" font-family='"Liberation Sans", sans-serif' font-weight="bold">C</text>
</svg>
</body></html>
